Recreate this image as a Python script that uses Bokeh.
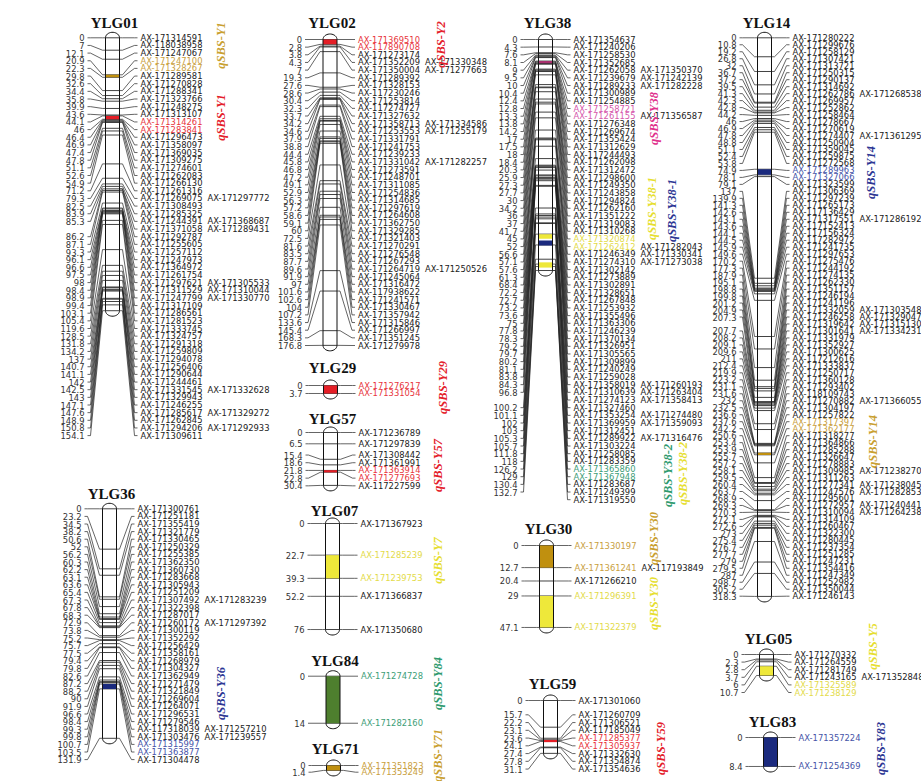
import numpy as np
from bokeh.plotting import figure
from bokeh.models import Range1d, ColumnDataSource
from bokeh.embed import file_html
from bokeh.resources import INLINE
from bokeh.core.properties import value

# ---------------- DATA ----------------
YLG01_CM = [0, 7, 12.1, 20.9, 22.3, 29.8, 32.6, 34.4, 35.8, 39.9, 43.6, 44.1, 46, 46.4, 46.9, 47.4, 47.8,
            51.1, 52.6, 54.9, 71.2, 79.3, 82.5, 83.9, 85.3, None, 86.2, 87.1, 93.3, 96.1, 96.6, 97.5, 98,
            98.4, 98.9, 99.4, 103.1, 105.4, 119.6, 128.5, 131.8, 134.2, 137, 140.7, 141.1, 142, 142.5,
            143, 147.1, 147.6, 148.9, 150.8, 154.1]
YLG01_MARKERS = ["AX-171314591", "AX-118038958", "AX-171247067", "AX-171247100", "AX-171328267",
                 "AX-171289581", "AX-171270828", "AX-171288341", "AX-171323766", "AX-171248275",
                 "AX-171313107", "AX-171314261", "AX-171283841", "AX-171296473", "AX-171358097",
                 "AX-171369035", "AX-171309275", "AX-171274601", "AX-171262083", "AX-171266130",
                 "AX-171261316", "AX-171269075 AX-171297772", "AX-171308493", "AX-171285325",
                 "AX-171244391 AX-171368687", "AX-171371058 AX-171289431", "AX-171292787",
                 "AX-171255605", "AX-171257112", "AX-171247973", "AX-171364972", "AX-171261754",
                 "AX-171297621 AX-171305533", "AX-171311529 AX-171310044", "AX-171247799 AX-171330770",
                 "AX-171317109", "AX-171286561", "AX-171281523", "AX-171333745", "AX-171324757",
                 "AX-171291318", "AX-171259809", "AX-171294078", "AX-171256406", "AX-171290644",
                 "AX-171244461", "AX-171331545 AX-171332628", "AX-171329943", "AX-171246255",
                 "AX-171285617 AX-171329272", "AX-171262845", "AX-171294206 AX-171292933", "AX-171309611"]

YLG02_CM = [0, 2.8, 3.8, 4.3, 7, 19.3, 27.6, 28.6, 30.4, 32.3, 33.7, 34.2, 34.6, 37.9, 38.8, 44.4, 45.8,
            46.8, 47.2, 49.1, 52.9, 56.3, 57.2, 58.6, 59.1, 60, 72.5, 81.6, 83.5, 87.7, 89.6, 91.9, 97,
            101.6, 102.6, 104, 107.2, 133.6, 145.4, 168.3, 176.8]
YLG02_MARKERS = ["AX-171369510", "AX-117890708", "AX-171273174", "AX-171352209 AX-171330348",
                 "AX-171350004 AX-171277663", "AX-171289392", "AX-171328153", "AX-117230246",
                 "AX-171253814", "AX-117274727", "AX-171327632", "AX-171358713 AX-171334586",
                 "AX-171253553 AX-171255179", "AX-171331791", "AX-171241753", "AX-171239233",
                 "AX-171331042 AX-171282257", "AX-171273591", "AX-171248701", "AX-171311085",
                 "AX-171254836", "AX-171314685", "AX-171297619", "AX-171264608", "AX-171362750",
                 "AX-171329285", "AX-171321403", "AX-171270291", "AX-171276548", "AX-171267293",
                 "AX-171264719 AX-171250526", "AX-171245064", "AX-171316472", "AX-117938622",
                 "AX-171241571", "AX-171330467", "AX-171357942", "AX-171315846", "AX-171266997",
                 "AX-171351245", "AX-171279978"]

YLG38_CM = [0, 4.3, 7.6, 8.1, 9, 9.5, 10, 10.4, 12.4, 12.8, 13.3, 13.8, 14.2, 17, 17.5, 18, 18.4, 20.3,
            25.9, 27.3, 27.7, 30, 34.2, 36, 37, 41.7, 45, 52, 56.6, 57.1, 57.6, 61.3, 68.4, 72.2, 72.7,
            73.2, 73.6, 75, 77.8, 78.3, 79.2, 79.7, 80.2, 81.1, 83.8, 84.3, 96.8, None, 100.2, 101.1,
            102, 103, 105.3, 105.7, 111.8, 118, 126.2, 129, 130.4, 132.7, None]
YLG38_MARKERS = ["AX-171354637", "AX-171240206", "AX-171258530", "AX-171352685",
                 "AX-171262058 AX-171350370", "AX-171239679 AX-171242139", "AX-171289233 AX-171282228",
                 "AX-171300989", "AX-171254885", "AX-171258721", "AX-171261155 AX-171356587",
                 "AX-171276348", "AX-171269674", "AX-171355424", "AX-171312629", "AX-117244493",
                 "AX-171262098", "AX-171312472", "AX-171298600", "AX-171249350", "AX-171243858",
                 "AX-171294824", "AX-171262160", "AX-171351222", "AX-171319083", "AX-171310268",
                 "AX-171320874", "AX-171262412 AX-171282043", "AX-171246349 AX-171330341",
                 "AX-171274310 AX-171273038", "AX-171302142", "AX-171273889", "AX-171302891",
                 "AX-171328651", "AX-171267848", "AX-171253932", "AX-171355496", "AX-171363306",
                 "AX-171246239", "AX-171370134", "AX-171326951", "AX-171305565", "AX-171309899",
                 "AX-171240249", "AX-171259028", "AX-171358019 AX-171260193",
                 "AX-171310639 AX-171263404", "AX-171274123 AX-171358413", "AX-171327460",
                 "AX-171353254 AX-171274480", "AX-171369959 AX-171359093", "AX-171312451",
                 "AX-171289922 AX-171316476", "AX-171303224", "AX-171258085", "AX-171283359",
                 "AX-171365860", "AX-171367948", "AX-171283687", "AX-171249399", "AX-171319550"]

YLG14_CM = [0, 10.8, 19.2, 26.8, 32, 36.7, 37.2, 39.5, 41.3, 42.3, 42.8, 44.2, 46, 46.9, 47.8, 48.8,
            51.1, 52.4, 53.8, 74.9, 78.1, 79.1, 137, 139.9, 141.3, 142.6, 143.1, 143.6, 144.1, 144.5,
            145.9, 149.6, 170.2, 177.3, 187.9, 195.1, 198.8, 199.8, 201.2, 204.9, 207.3, None, 207.7,
            208.2, 209.1, 209.6, 211, 212.4, 219.9, 223.2, 231.1, 231.6, 232, 232.5, 236.6, 237.6,
            242.2, 250.6, 253.4, 253.9, 255.7, 257.2, 258.1, 259.5, 260.4, 263.7, 268.9, 269.3, 270.3,
            272.1, 272.6, 273, 275.4, 276.7, 277.7, 279, 279.5, 287, 298.7, 305.2, 318.3]
YLG14_MARKERS = ["AX-171280222", "AX-171299676", "AX-171258129", "AX-171307421", "AX-171313721",
                 "AX-171250315", "AX-171290137", "AX-171314692", "AX-171262786 AX-171268538",
                 "AX-171269957", "AX-171252862", "AX-171258464", "AX-171278667", "AX-171270619",
                 "AX-171274407 AX-171361295", "AX-171250904", "AX-171359045", "AX-171259875",
                 "AX-171272568", "AX-171289963", "AX-171327066", "AX-171323599", "AX-171306369",
                 "AX-171297239", "AX-171265173", "AX-117136429", "AX-171317551 AX-171286192",
                 "AX-117152413", "AX-117156324", "AX-117282972", "AX-171241735", "AX-171297653",
                 "AX-171275476", "AX-171244192", "AX-171274135", "AX-171262330", "AX-171351157",
                 "AX-171246194", "AX-171241196", "AX-171332059 AX-171303548",
                 "AX-171246258 AX-171329047", "AX-171319642 AX-171315130",
                 "AX-171301641 AX-171334231", "AX-171331979", "AX-171352927", "AX-171300625",
                 "AX-117212616", "AX-171333837", "AX-171250717", "AX-171360128", "AX-171293402",
                 "AX-118109743", "AX-171270882 AX-171366055", "AX-171304197", "AX-171257822",
                 "AX-171317397", "AX-171362177", "AX-171318277", "AX-171364866", "AX-171285288",
                 "AX-171326647", "AX-171278883", "AX-171309985 AX-171238270", "AX-171311263",
                 "AX-171277341 AX-171238045", "AX-171247576 AX-171282853", "AX-171295601",
                 "AX-171272957 AX-171240441", "AX-171310094 AX-171264238", "AX-171314109",
                 "AX-171260467", "AX-171322300", "AX-171280445", "AX-171237354", "AX-171251285",
                 "AX-171247231", "AX-171354416", "AX-171247349", "AX-171252982", "AX-171350044",
                 "AX-171246143"]

YLG36_CM = [0, 23.2, 34.5, 38.2, 50.6, 52, 56.2, 60.3, 62.2, 63.1, 63.6, 65.4, 67.3, 67.8, 68.3, 72.9,
            73.8, 75.2, 75.7, 77.5, 79.4, 79.8, 82.6, 87.2, 88.2, 90, 91.9, 96.6, 98.4, 99.3, 99.8,
            100.7, 103.5, 131.9]
YLG36_MARKERS = ["AX-171300761", "AX-171251181", "AX-171355419", "AX-171321779", "AX-171330465",
                 "AX-171250329", "AX-171255385", "AX-171362350", "AX-171360730", "AX-171283668",
                 "AX-171305943", "AX-171251209", "AX-171307492 AX-171283239", "AX-171322398",
                 "AX-171287017", "AX-171260172 AX-171297392", "AX-171300119", "AX-171352292",
                 "AX-171256429", "AX-171358161", "AX-171268979", "AX-171304327", "AX-171362949",
                 "AX-171271479", "AX-171321849", "AX-171269604", "AX-171264071", "AX-171296531",
                 "AX-171279546", "AX-117318039 AX-171257210", "AX-171303476 AX-171239557",
                 "AX-171315997", "AX-171363877", "AX-171304478"]

YLG29_CM = [0, 3.7]
YLG29_MARKERS = ["AX-171276217", "AX-171331054"]
YLG57_CM = [0, 6.5, 15.4, 18.6, 21.8, 22.8, 30.4]
YLG57_MARKERS = ["AX-171236789", "AX-171297839", "AX-171308442", "AX-171361991", "AX-171363914",
                 "AX-171277693", "AX-117227599"]
YLG07_CM = [0, 22.7, 39.3, 52.2, 76]
YLG07_MARKERS = ["AX-171367923", "AX-171285239", "AX-171239753", "AX-171366837", "AX-171350680"]
YLG84_CM = [0, 14]
YLG84_MARKERS = ["AX-171274728", "AX-171282160"]
YLG71_CM = [0, 1.4]
YLG71_MARKERS = ["AX-171351823", "AX-171353249"]
YLG30_CM = [0, 12.7, 20.4, 29, 47.1]
YLG30_MARKERS = ["AX-171330197", "AX-171361241 AX-117193849", "AX-171266210", "AX-171296391",
                 "AX-171322379"]
YLG59_CM = [0, 15.7, 22.2, 23.1, 23.6, 24.1, 27.4, 27.8, 31.1]
YLG59_MARKERS = ["AX-171301060", "AX-171260709", "AX-171306521", "AX-117185049", "AX-171285377",
                 "AX-171305937", "AX-171332630", "AX-171354874", "AX-171354636"]
YLG05_CM = [0, 2.3, 2.8, 3.7, 6, 10.7]
YLG05_MARKERS = ["AX-171270332", "AX-171264559", "AX-171281749", "AX-171243165 AX-171352848",
                 "AX-171325589", "AX-171238129"]
YLG83_CM = [0, 8.4]
YLG83_MARKERS = ["AX-171357224", "AX-171254369"]

# highlighted markers (QTL flanking markers)
GOLD_MARKERS = ["AX-171247100", "AX-171328267", "AX-171351823", "AX-171353249", "AX-171330197",
                "AX-171361241", "AX-171317397", "AX-171362177"]
RED_MARKERS = ["AX-171314261", "AX-171283841", "AX-171369510", "AX-117890708", "AX-171276217",
               "AX-171331054", "AX-171363914", "AX-171277693", "AX-171285377", "AX-171305937"]
YELLOW_MARKERS = ["AX-171285239", "AX-171239753", "AX-171320874", "AX-171262412", "AX-171296391",
                  "AX-171322379", "AX-171325589", "AX-171238129"]
NAVY_MARKERS = ["AX-171315997", "AX-171363877", "AX-171289963", "AX-171327066", "AX-171357224",
                "AX-171254369"]
GREEN_MARKERS = ["AX-171274728", "AX-171282160", "AX-171365860", "AX-171367948"]
MAGENTA_MARKERS = ["AX-171258721", "AX-171261155"]

# QTL intervals drawn on the bars (cM)
BAND_GROUP = ["YLG01", "YLG01", "YLG02", "YLG29", "YLG57", "YLG07", "YLG84", "YLG71", "YLG36",
              "YLG38", "YLG38", "YLG38", "YLG38", "YLG30", "YLG30", "YLG59", "YLG14", "YLG14",
              "YLG05", "YLG83"]
BAND_START = [20.9, 44.1, 0, 0, 21.8, 22.7, 0, 0, 100.7, 12.8, 111.8, 115.5, 128, 0, 29, 23.6, 74.9,
              236.6, 6, 0]
BAND_END = [22.3, 46, 2.8, 3.7, 22.8, 39.3, 14, 1.4, 103.5, 13.3, 114.5, 118.3, 131, 12.7, 47.1, 24.1,
            78.1, 237.6, 10.7, 8.4]
BAND_COLOR = ["gold", "red", "red", "red", "red", "yellow", "green", "gold", "navy", "magenta",
              "yellow", "navy", "yellow", "gold", "yellow", "red", "navy", "gold", "yellow", "navy"]

# QTL names
QTL_NAMES = ["qSBS-Y1", "qSBS-Y1", "qSBS-Y2", "qSBS-Y29", "qSBS-Y57", "qSBS-Y7", "qSBS-Y84",
             "qSBS-Y71", "qSBS-Y36", "qSBS-Y38", "qSBS-Y38-1", "qSBS-Y38-1", "qSBS-Y38-2",
             "qSBS-Y38-2", "qSBS-Y30", "qSBS-Y30", "qSBS-Y59", "qSBS-Y14", "qSBS-Y14", "qSBS-Y5",
             "qSBS-Y83"]
QTL_COLOR = ["gold", "red", "red", "red", "red", "yellow", "teal", "gold", "navy", "magenta",
             "yellow", "navy", "teal", "yellow", "gold", "yellow", "red", "navy", "gold", "yellow",
             "navy"]

# ---------------- STYLE / LAYOUT ----------------
BAND_FILL = {"gold": "#C0900F", "red": "#E41E26", "yellow": "#EEE83A", "navy": "#1B2A7E",
             "green": "#4E7F2E", "magenta": "#A8306E"}
TEXT_FILL = {"gold": "#C9A040", "red": "#E8353D", "yellow": "#E3DB4A", "navy": "#4654A8",
             "green": "#3E9E78", "magenta": "#D658AC", "black": "#222222"}
QTL_FILL = {"gold": "#C9A030", "red": "#E4202A", "yellow": "#E6DE30", "navy": "#2C3694",
            "teal": "#2E9A6E", "magenta": "#E0308C"}

# group: (bar centre x, y of 0 cM, px per cM, label gap, title y, label mode)
LAYOUT = {
    "YLG01": (112, 37.3, 1.771, 7.65, 22, "pack"),
    "YLG02": (329.5, 39, 1.73, 7.65, 22, "pack"),
    "YLG38": (545, 39, 1.741, 7.67, 22, "pack"),
    "YLG14": (764, 37.3, 1.755, 6.98, 22, "pack"),
    "YLG36": (109, 508.3, 1.74, 7.6, 493, "pack"),
    "YLG29": (330, 385, 2.16, 7.65, 367, "center"),
    "YLG57": (330, 432, 1.74, 7.7, 418, "center"),
    "YLG07": (332, 523, 1.395, 7.65, 510, "center"),
    "YLG84": (332.5, 675.7, 3.36, 7.65, 660, "center"),
    "YLG71": (333, 765, 3.5, 6.7, 748, "center"),
    "YLG30": (546, 545, 1.74, 7.65, 528, "center"),
    "YLG59": (550, 700, 1.70, 7.75, 683, "center"),
    "YLG05": (766, 654, 1.96, 7.6, 638, "center"),
    "YLG83": (770, 737, 3.45, 7.65, 721, "center"),
}
QTL_XY = [(220, 45), (220, 117), (440, 44), (442, 387), (437, 465), (437, 560), (437, 683),
          (437, 755), (220, 693), (653, 118), (651, 208), (671, 210), (667, 475), (682, 473),
          (653, 538), (653, 603), (660, 748), (870, 172), (872, 441), (872, 646), (880, 748)]

GROUPS = {
    "YLG01": (YLG01_CM, YLG01_MARKERS), "YLG02": (YLG02_CM, YLG02_MARKERS),
    "YLG38": (YLG38_CM, YLG38_MARKERS), "YLG14": (YLG14_CM, YLG14_MARKERS),
    "YLG36": (YLG36_CM, YLG36_MARKERS), "YLG29": (YLG29_CM, YLG29_MARKERS),
    "YLG57": (YLG57_CM, YLG57_MARKERS), "YLG07": (YLG07_CM, YLG07_MARKERS),
    "YLG84": (YLG84_CM, YLG84_MARKERS), "YLG71": (YLG71_CM, YLG71_MARKERS),
    "YLG30": (YLG30_CM, YLG30_MARKERS), "YLG59": (YLG59_CM, YLG59_MARKERS),
    "YLG05": (YLG05_CM, YLG05_MARKERS), "YLG83": (YLG83_CM, YLG83_MARKERS),
}

MCOL = {}
for k, lst in (("gold", GOLD_MARKERS), ("red", RED_MARKERS), ("yellow", YELLOW_MARKERS),
               ("navy", NAVY_MARKERS), ("green", GREEN_MARKERS), ("magenta", MAGENTA_MARKERS)):
    for m in lst:
        MCOL[m] = TEXT_FILL[k]

W, H = 921, 781
HW = 7      # bar half width
CAP = 5.5   # rounded end height
LBL = 28    # label offset from bar centre
SECOND = 95 # offset of second marker column
FONT = "DejaVu Sans"
FS = "8.4px"


def place(targets, gap, ymin):
    clusters = []
    for t in targets:
        n, s = 1, t
        while clusters:
            pn, ps = clusters[-1]
            ptop = max(ymin, ps / pn)
            top = max(ymin, s / n)
            if ptop + pn * gap > top + 1e-9:
                clusters.pop()
                s = ps + s - n * pn * gap
                n = pn + n
            else:
                break
        clusters.append((n, s))
    ys = []
    for n, s in clusters:
        top = max(ymin, s / n)
        ys += [top + k * gap for k in range(n)]
    return ys


def capsule(cx, ytop, ybot, n=18):
    t = np.linspace(0, np.pi, n)
    xs = np.concatenate([cx - HW * np.cos(t), cx + HW * np.cos(t)])
    ys = np.concatenate([ytop - CAP * np.sin(t), ybot + CAP * np.sin(t)])
    return list(xs), list(ys)


p = figure(width=W, height=H, x_range=Range1d(0, W), y_range=Range1d(H, 0),
           output_backend="svg", toolbar_location=None, min_border=0,
           x_axis_location=None, y_axis_location=None, background_fill_color="white")
p.grid.visible = False
p.outline_line_color = None

bars_x, bars_y = [], []
tick_x, tick_y = [], []
con_x, con_y = [], []
lt = dict(x=[], y=[], t=[])
rt = dict(x=[], y=[], t=[], c=[])
tt = dict(x=[], y=[], t=[])
ybar_fn = {}

for g, (cm, markers) in GROUPS.items():
    cx, y0, s, gap, ty, mode = LAYOUT[g]
    pos, last = [], None
    for c in cm:
        if c is not None:
            last = c
        pos.append(last)
    yb = [y0 + s * c for c in pos]
    if mode == "pack":
        yl = [y0 + i * gap for i in range(len(yb))]
    else:
        yl = place(yb, gap, y0)
    ybar_fn[g] = (cx, y0, s)
    bx, by = capsule(cx, y0, y0 + s * max(pos))
    bars_x.append(bx)
    bars_y.append(by)
    for c in sorted(set(pos)):
        y = y0 + s * c
        tick_x.append([cx - HW, cx + HW])
        tick_y.append([y, y])
    for c, m, b, l in zip(cm, markers, yb, yl):
        if c is not None:
            con_x.append([cx - LBL + 3, cx - LBL + 6, cx - HW - 3, cx - HW])
            con_y.append([l, l, b, b])
            lt["x"].append(cx - LBL)
            lt["y"].append(l)
            lt["t"].append(f"{c:g}")
        con_x.append([cx + HW, cx + HW + 3, cx + LBL - 6, cx + LBL - 3])
        con_y.append([b, b, l, l])
        for k, name in enumerate(m.split()):
            rt["x"].append(cx + LBL + k * (SECOND - LBL))
            rt["y"].append(l)
            rt["t"].append(name)
            rt["c"].append(MCOL.get(name, TEXT_FILL["black"]))
    tt["x"].append(cx + 2)
    tt["y"].append(ty)
    tt["t"].append(g)

# bar bodies
p.patches(bars_x, bars_y, fill_color="white", line_color=None)
p.multi_line(tick_x, tick_y, line_color="#111111", line_width=0.8)

# QTL bands
bl, br, bt, bb, bc = [], [], [], [], []
for g, a, e, col in zip(BAND_GROUP, BAND_START, BAND_END, BAND_COLOR):
    cx, y0, s = ybar_fn[g]
    ya, ye = y0 + s * a, y0 + s * e
    if ye - ya < 2.2:
        m = (ya + ye) / 2
        ya, ye = m - 1.1, m + 1.1
    bl.append(cx - HW); br.append(cx + HW); bt.append(ya); bb.append(ye); bc.append(BAND_FILL[col])
p.quad(left=bl, right=br, top=bt, bottom=bb, fill_color=bc, line_color=None)

p.patches(bars_x, bars_y, fill_color=None, line_color="#111111", line_width=1)
p.multi_line(con_x, con_y, line_color="#222222", line_width=0.7)

p.text(x="x", y="y", text="t", source=ColumnDataSource(lt), text_align="right",
       text_baseline="middle", text_font=value(FONT), text_font_size=FS, text_color="#333333")
p.text(x="x", y="y", text="t", text_color="c", source=ColumnDataSource(rt), text_align="left",
       text_baseline="middle", text_font=value(FONT), text_font_size=FS)
p.text(x="x", y="y", text="t", source=ColumnDataSource(tt), text_align="center",
       text_baseline="middle", text_font=value("Liberation Serif"), text_font_size="15px",
       text_font_style="bold", text_color="#111111")

qd = dict(x=[xy[0] for xy in QTL_XY], y=[xy[1] for xy in QTL_XY], t=QTL_NAMES,
          c=[QTL_FILL[k] for k in QTL_COLOR])
p.text(x="x", y="y", text="t", text_color="c", source=ColumnDataSource(qd), angle=np.pi / 2,
       text_align="center", text_baseline="middle", text_font=value("Liberation Serif"),
       text_font_size="12.5px", text_font_style="bold italic")

open("out.html", "w").write(file_html(p, INLINE))
